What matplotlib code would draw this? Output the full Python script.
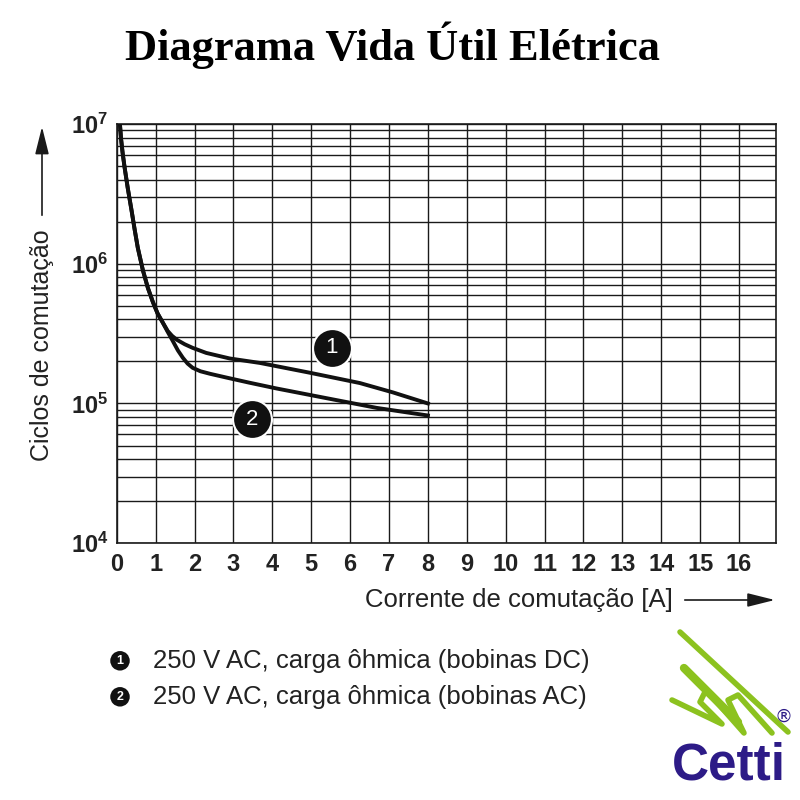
import numpy as np
import matplotlib.pyplot as plt
from matplotlib.lines import Line2D
from matplotlib.ticker import LogLocator, FixedLocator

# data
corrente_1 = [0.08, 0.11, 0.15, 0.2, 0.28, 0.38, 0.46, 0.54, 0.67, 0.8, 0.93, 1.05, 1.18, 1.31,
              1.42, 1.55, 1.75, 1.95, 2.3, 2.9, 3.68, 4.96, 6.25, 7.1, 8.0]
ciclos_1 = [1.0e7, 7.8e6, 6.2e6, 4.9e6, 3.5e6, 2.4e6, 1.75e6, 1.3e6, 9.0e5, 6.7e5, 5.3e5, 4.4e5,
            3.8e5, 3.3e5, 3.05e5, 2.85e5, 2.65e5, 2.5e5, 2.3e5, 2.1e5, 1.95e5, 1.66e5, 1.4e5,
            1.2e5, 1.0e5]
corrente_2 = [0.08, 0.11, 0.15, 0.2, 0.28, 0.38, 0.46, 0.54, 0.67, 0.8, 0.93, 1.05, 1.18, 1.31,
              1.44, 1.57, 1.7, 1.82, 1.95, 2.15, 2.4, 2.83, 3.4, 4.11, 5.4, 6.68, 8.0]
ciclos_2 = [1.0e7, 7.8e6, 6.2e6, 4.9e6, 3.5e6, 2.4e6, 1.75e6, 1.3e6, 9.0e5, 6.7e5, 5.3e5, 4.4e5,
            3.8e5, 3.25e5, 2.8e5, 2.4e5, 2.12e5, 1.93e5, 1.8e5, 1.7e5, 1.63e5, 1.53e5, 1.41e5,
            1.28e5, 1.09e5, 9.3e4, 8.2e4]
x_ticks = list(range(0, 17))
legenda = ['250 V AC, carga ôhmica (bobinas DC)', '250 V AC, carga ôhmica (bobinas AC)']

fonte = ['Liberation Sans', 'DejaVu Sans']

fig = plt.figure(figsize=(8, 8), dpi=100)
ax = fig.add_axes([0.146, 0.321, 0.824, 0.524])

ax.set_yscale('log')
ax.set_xlim(0, 16.95)
ax.set_ylim(1e4, 1e7)
ax.xaxis.set_major_locator(FixedLocator(x_ticks))
ax.yaxis.set_major_locator(LogLocator(base=10, numticks=10))
ax.yaxis.set_minor_locator(LogLocator(base=10, subs=np.arange(2, 10), numticks=20))
ax.grid(True, which='both', color='#1a1a1a', lw=1.0)
ax.set_axisbelow(True)
ax.tick_params(which='both', length=0)
ax.tick_params(axis='x', pad=7)
ax.tick_params(axis='y', pad=6)
for s in ax.spines.values():
    s.set_color('#1a1a1a')
    s.set_linewidth(1.2)

for lab in ax.get_xticklabels() + ax.get_yticklabels():
    lab.set_family(fonte)
    lab.set_fontsize(17)
    lab.set_fontweight('bold')
    lab.set_color('#222222')

ax.plot(corrente_1, ciclos_1, color='#111111', lw=2.8, zorder=3, solid_joinstyle='round')
ax.plot(corrente_2, ciclos_2, color='#111111', lw=2.8, zorder=3, solid_joinstyle='round')

# numbered markers
for num, (xx, yy) in zip(['1', '2'], [(5.53, 2.5e5), (3.47, 7.7e4)]):
    ax.plot(xx, yy, 'o', ms=28, mfc='#111111', mec='white', mew=1.5, zorder=4)
    ax.text(xx, yy, num, color='white', fontsize=16, ha='center', va='center',
            family=fonte, zorder=5)

fig.text(0.491, 0.944, 'Diagrama Vida Útil Elétrica', ha='center', va='center',
         fontsize=32, fontweight='bold', family=['Liberation Serif', 'DejaVu Serif'])

# axis titles with arrows
seta = dict(arrowstyle='-|>,head_length=1.4,head_width=0.35', color='#1a1a1a', lw=1.2,
            mutation_scale=12)
fig.text(0.053, 0.569, 'Ciclos de comutação', rotation=90, ha='center', va='center',
         fontsize=18, family=fonte, color='#222222')
fig.add_artist(plt.Annotation('', xy=(0.0525, 0.845), xytext=(0.0525, 0.7275),
                              xycoords='figure fraction', textcoords='figure fraction',
                              arrowprops=seta))
fig.text(0.456, 0.25, 'Corrente de comutação [A]', ha='left', va='center',
         fontsize=18.5, family=fonte, color='#222222')
fig.add_artist(plt.Annotation('', xy=(0.972, 0.25), xytext=(0.8525, 0.25),
                              xycoords='figure fraction', textcoords='figure fraction',
                              arrowprops=seta))

for i, t in enumerate(legenda):
    yy = 0.174 - i * 0.045
    fig.text(0.15, yy, str(i + 1), ha='center', va='center', fontsize=9, color='white',
             fontweight='bold', family=fonte,
             bbox=dict(boxstyle='circle,pad=0.3', fc='#111111', ec='none'))
    fig.text(0.191, yy, t, ha='left', va='center', fontsize=18.5, family=fonte, color='#222222')

# logo
verde = '#8cc21f'
def px(pts):
    return [p[0] / 800 for p in pts], [1 - p[1] / 800 for p in pts]

for pts, w in [([(680, 632), (788, 732)], 4),
               ([(684, 668), (738, 722)], 6),
               ([(672, 700), (722, 724), (700, 702), (706, 690), (744, 733), (728, 700),
                 (738, 695), (772, 733)], 4)]:
    xs, ys = px(pts)
    fig.add_artist(Line2D(xs, ys, color=verde, lw=w, solid_capstyle='round',
                          solid_joinstyle='round'))
fig.text(0.911, 0.043, 'Cetti', ha='center', va='center', fontsize=37, fontweight='bold',
         color='#2d1b87', family=fonte)
fig.text(0.979, 0.104, '®', ha='center', va='center', fontsize=13, color='#2d1b87')

fig.savefig('out.png', dpi=100, facecolor='white')
